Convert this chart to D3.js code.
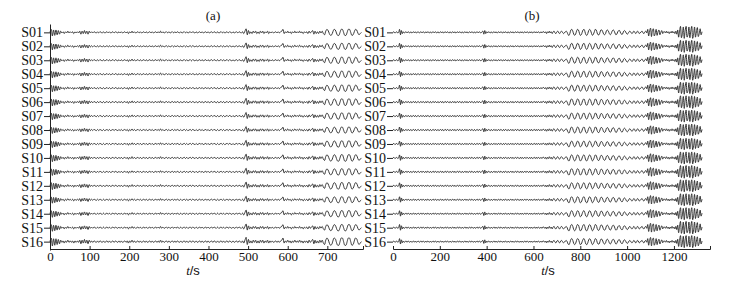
<!DOCTYPE html>
<html>
<head>
<meta charset="utf-8">
<script src="https://cdn.jsdelivr.net/npm/d3@7"></script>
<style>
  body { margin: 0; background: #fff; }
  text { font-family: "Liberation Serif", "Times New Roman", serif; fill: #111; }
</style>
</head>
<body>
<div id="graphic"></div>
<script>
// station names
var stations = ["S01","S02","S03","S04","S05","S06","S07","S08","S09","S10","S11","S12","S13","S14","S15","S16"];

// tick labels
var ticksA = [0,100,200,300,400,500,600,700];
var ticksB = [0,200,400,600,800,1000,1200];

// sample step (s) of each record
var dtA = 3;
var dtB = 4;

// record (a), amplitude, one value every 3 s
var waveA = [
  0,5,-6,4,-5,4,-4,3,-3,
  2,-1,1,-2,1,-1,2,-1,1,-1,1,-2,1,-1,1,-1,
  2,-3,2,-2,3,-2,2,-3,2,-1,1,
  -1,1,0,-1,1,-1,1,0,-1,1,-1,0,1,-1,1,-1,0,1,-1,1,
  0,-1,1,-1,1,-1,0,1,-1,1,-2,1,-1,2,-1,1,-1,0,1,-1,
  1,-1,0,1,-1,
  1,-1,0,1,-1,1,-1,0,1,-1,1,-1,2,-1,1,-1,0,1,-1,1,
  -1,0,1,-1,1,-1,1,0,-1,1,-1,0,1,-1,1,-1,0,1,-1,1,
  0,-1,1,-1,0,1,-1,1,-1,0,1,-1,1,-1,0,1,-1,1,0,-1,
  1,-1,0,1,-1,1,-1,0,1,-1,1,0,-1,1,-1,0,1,-1,1,0,
  -1,1,-2,2,6,
  -4,3,-2,1,-2,2,-1,2,-2,1,-2,2,-1,2,-2,1,-1,2,-2,1,-1,
  1,-1,0,1,-1,1,-1,1,
  2,5,-2,1,
  -1,2,-1,1,-2,1,-1,2,-1,1,-1,2,-1,1,-2,1,-1,1,-2,2,-1,1,
  3,-3,2,-2,
  1,-2,2,-1,2,-2,
  -4,2,5,3,-2,-5,-4,1,5,4,-1,-5,-5,0,5,5,0,-5,-5,0,5,5,0,-5,-4,1,5,4,-1,-4,-2,0
];

// record (b), one value every 4 s
var waveB = [
  0,1,-1,0,1,-1,0,
  5,-4,3,-2,
  1,-1,0,1,-1,1,0,-1,1,-1,0,1,-1,1,-1,0,1,-1,0,1,
  -1,1,0,-1,1,-1,1,0,-1,1,-1,0,1,-1,1,0,-1,1,-1,0,
  1,-1,1,-1,0,1,-1,1,0,-1,1,-1,0,1,-1,1,-1,0,1,-1,
  1,0,-1,1,-1,0,1,-1,1,-1,0,1,-1,1,0,-1,1,-1,0,1,
  -1,1,0,-1,1,
  2,-3,3,-2,1,
  -1,1,0,-1,1,-1,0,1,-1,1,-1,0,1,-1,1,0,-1,1,-1,1,
  0,-1,1,-1,0,1,-1,1,-1,0,1,-1,1,0,-1,1,-1,1,-1,0,
  1,-1,1,0,-1,1,-1,1,-1,0,1,-1,1,-1,1,0,-1,1,-1,1,
  1,-1,1,-2,1,-1,2,-1,1,-2,1,2,-1,-2,1,2,-1,-2,1,2,0,-2,-1,1,2,
  0,-4,-5,-1,4,5,2,-3,-5,-3,2,5,4,-1,-5,-4,0,4,5,1,
  -4,-5,-2,3,5,3,-2,-5,-3,1,5,4,-1,-4,-4,0,4,4,1,-3,
  -4,-2,3,4,2,-2,-4,-2,2,4,3,-1,-4,-3,1,3,3,-1,-3,-3,
  1,3,2,-1,-3,
  -2,1,2,0,-2,-1,2,1,-2,-1,2,1,-2,-1,1,2,-1,-2,1,2,-1,
  5,-6,2,7,-7,3,6,-6,-2,5,-5,1,4,-4,0,3,-2,1,
  1,-1,2,-1,1,-2,1,-1,2,-1,1,-2,2,-3,
  4,-8,2,10,-9,-2,9,-10,3,10,-8,-4,9,-9,2,10,-10,-3,9,-8,1,8,-7,-2,6,-4,1
];

// per-station gain
var gainA = [1.0,0.95,1.0,1.0,1.0,1.05,1.0,0.95,1.0,1.05,1.0,1.05,0.95,1.0,1.0,1.2];
var gainB = [1.0,1.0,1.0,1.0,1.0,1.05,1.0,1.0,0.95,1.0,1.05,1.0,1.0,1.0,1.05,1.0];

var width = 754, height = 284;

var svg = d3.select('#graphic').append('svg')
  .attr('width', width)
  .attr('height', height);

// shared vertical scales
var y = d3.scalePoint()
  .domain(stations)
  .range([24, 250])
  .padding(0.6);

var amp = d3.scaleLinear()
  .domain([-10, 10])
  .range([6, -6]);

var axisY = 249;

function drawPanel(opts) {
  var g = svg.append('g');
  var x = opts.x;

  var rows = stations.map(function(s, i) {
    return { name: s, pts: opts.wave.map(function(v, k) { return [k * opts.dt, v * opts.gain[i]]; }) };
  });

  var line = d3.line()
    .x(function(d) { return x(d[0]); })
    .curve(d3.curveCatmullRom);

  g.selectAll('path.trace')
    .data(rows)
    .join('path')
    .attr('class', 'trace')
    .attr('fill', 'none')
    .attr('stroke', '#222')
    .attr('stroke-width', 0.9)
    .attr('d', function(r) {
      return line.y(function(d) { return y(r.name) + amp(d[1]) - amp(0); })(r.pts);
    });

  // station axis
  var yAx = g.append('g')
    .attr('transform', 'translate(' + x.range()[0] + ',0)')
    .call(d3.axisLeft(y).tickSize(6).tickSizeOuter(0).tickPadding(1));
  yAx.selectAll('text').style('font-size', '14px').attr('fill', '#111');
  yAx.selectAll('line').attr('stroke', '#222');
  if (opts.showYLine) {
    yAx.select('.domain').attr('stroke', '#222');
  } else {
    yAx.select('.domain').remove();
  }

  // time axis
  var xAx = g.append('g')
    .attr('transform', 'translate(0,' + axisY + ')')
    .call(d3.axisBottom(x).tickValues(opts.ticks).tickFormat(d3.format('d'))
      .tickSizeInner(-3).tickSizeOuter(-3).tickPadding(3));
  xAx.selectAll('text').style('font-size', '13px').attr('fill', '#111');
  xAx.selectAll('line, .domain').attr('stroke', '#222');

  // title
  g.append('text')
    .attr('x', opts.titleX)
    .attr('y', 20)
    .attr('text-anchor', 'middle')
    .style('font-size', '13px')
    .text(opts.title);

  // axis label t/s
  var lab = g.append('text')
    .attr('x', opts.labelX)
    .attr('y', 275)
    .attr('text-anchor', 'middle')
    .style('font-size', '13px');
  lab.append('tspan').style('font-style', 'italic').text('t');
  lab.append('tspan').style('font-family', 'Liberation Sans, Arial, sans-serif').text('/s');
}

drawPanel({
  x: d3.scaleLinear().domain([0, 790]).range([50, 363]),
  wave: waveA, dt: dtA, gain: gainA, ticks: ticksA,
  showYLine: true, title: '(a)', titleX: 213, labelX: 193
});

drawPanel({
  x: d3.scaleLinear().domain([0, 1354]).range([393, 710]),
  wave: waveB, dt: dtB, gain: gainB, ticks: ticksB,
  showYLine: false, title: '(b)', titleX: 532, labelX: 548
});
</script>
</body>
</html>
